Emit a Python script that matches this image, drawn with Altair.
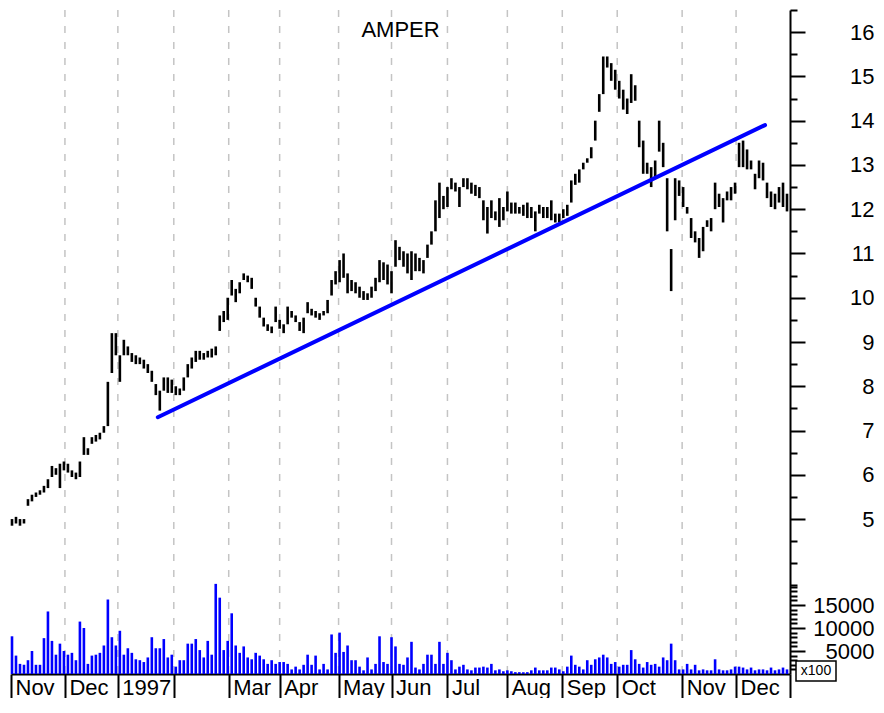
import json
import altair as alt
import pandas as pd

F = "Liberation Sans"

# month label boxes: label and first trading-day index of each month (last = end of data)
months = ["Nov", "Dec", "1997", "", "Mar", "Apr", "May", "Jun", "Jul", "Aug", "Sep", "Oct", "Nov", "Dec", ""]
month_start = [-0.25, 13.25, 26.5, 40.5, 54.25, 67, 81.75, 95, 109, 124, 137.75, 151.5, 167.75, 181.25, 194.75]

high = [5.0, 5.05, 5.0, 5.0, 5.45, 5.55, 5.6, 5.65, 5.75, 5.9,
        6.2, 6.15, 6.25, 6.3, 6.25, 6.1, 6.05, 6.3, 6.85, 6.6,
        6.85, 6.9, 6.95, 7.1, 8.1, 9.2, 9.2, 8.7, 9.05, 8.9,
        8.75, 8.7, 8.65, 8.6, 8.5, 8.35, 8.05, 7.9, 8.2, 8.2,
        8.15, 8.0, 7.95, 8.2, 8.5, 8.65, 8.8, 8.8, 8.75, 8.8,
        8.85, 8.9, 9.6, 9.7, 10.0, 10.4, 10.2, 10.35, 10.55, 10.5,
        10.45, 10.0, 9.8, 9.55, 9.4, 9.35, 9.8, 9.5, 9.4, 9.8,
        9.7, 9.6, 9.45, 9.55, 9.9, 9.75, 9.7, 9.65, 9.7, 9.95,
        10.4, 10.6, 10.85, 11.0, 10.55, 10.4, 10.35, 10.25, 10.15, 10.1,
        10.25, 10.45, 10.85, 10.8, 10.75, 10.6, 11.3, 11.15, 11.05, 11.0,
        11.05, 11.0, 10.9, 10.85, 11.2, 11.5, 12.2, 12.6, 12.3, 12.5,
        12.7, 12.6, 12.5, 12.7, 12.7, 12.6, 12.55, 12.5, 12.2, 12.05,
        12.2, 11.95, 12.25, 12.05, 12.4, 12.15, 12.15, 12.05, 12.1, 12.15,
        12.05, 11.95, 12.1, 12.05, 12.05, 12.2, 11.9, 11.9, 12.0, 12.1,
        12.65, 12.8, 12.9, 13.05, 13.15, 13.4, 14.0, 14.6, 15.45, 15.45,
        15.3, 15.15, 14.9, 14.7, 14.5, 15.05, 14.8, 14.0, 13.55, 13.05,
        12.95, 13.1, 14.0, 13.5, 12.7, 11.1, 12.7, 12.65, 12.5, 12.05,
        11.8, 11.5, 11.35, 11.6, 11.75, 11.8, 12.6, 12.35, 12.25, 12.4,
        12.5, 12.6, 13.5, 13.55, 13.35, 13.1, 12.8, 13.1, 13.05, 12.6,
        12.4, 12.35, 12.5, 12.6, 12.35]

low = [4.85, 4.9, 4.85, 4.9, 5.3, 5.4, 5.5, 5.55, 5.6, 5.7,
       5.95, 6.0, 5.7, 6.1, 6.05, 5.95, 5.9, 5.95, 6.45, 6.45,
       6.7, 6.75, 6.8, 6.95, 7.1, 8.3, 8.7, 8.1, 8.7, 8.7,
       8.55, 8.5, 8.5, 8.4, 8.3, 8.1, 7.8, 7.45, 7.9, 7.85,
       7.85, 7.8, 7.8, 7.9, 8.2, 8.4, 8.55, 8.6, 8.6, 8.65,
       8.65, 8.7, 9.25, 9.45, 9.5, 10.05, 9.9, 10.1, 10.4, 10.35,
       10.2, 9.8, 9.55, 9.35, 9.25, 9.2, 9.45, 9.3, 9.2, 9.4,
       9.55, 9.45, 9.25, 9.2, 9.65, 9.6, 9.55, 9.5, 9.6, 9.65,
       10.05, 10.3, 10.35, 10.45, 10.1, 10.15, 10.1, 10.0, 9.95, 9.95,
       10.0, 10.15, 10.35, 10.4, 10.3, 10.1, 10.7, 10.85, 10.7, 10.55,
       10.4, 10.6, 10.6, 10.55, 10.9, 11.2, 11.5, 11.8, 12.0, 12.05,
       12.45, 12.4, 12.05, 12.5, 12.45, 12.35, 12.3, 12.25, 11.75, 11.45,
       11.8, 11.75, 11.6, 11.75, 11.95, 11.9, 11.9, 11.9, 11.85, 11.8,
       11.8, 11.5, 11.9, 11.8, 11.8, 11.75, 11.7, 11.7, 11.8, 11.85,
       12.15, 12.55, 12.6, 12.9, 13.05, 13.15, 13.55, 14.2, 14.6, 15.2,
       14.9, 14.7, 14.5, 14.25, 14.15, 14.4, 14.45, 13.4, 12.8, 12.8,
       12.5, 12.7, 13.3, 12.95, 11.5, 10.15, 11.75, 12.3, 12.05, 11.9,
       11.35, 11.25, 10.9, 11.05, 11.6, 11.5, 12.0, 12.05, 11.7, 12.2,
       12.2, 12.35, 12.95, 12.95, 12.9, 12.9, 12.45, 12.7, 12.65, 12.25,
       12.05, 12.0, 12.15, 12.05, 11.95]

volume = [8200, 4000, 2200, 2000, 3000, 5000, 2000, 2000, 7800, 13600,
          7200, 4200, 6600, 5000, 4200, 4600, 3000, 11400, 10000, 2200,
          4000, 4200, 4600, 6200, 16200, 8000, 6200, 9400, 4200, 5600,
          4600, 3200, 3000, 2600, 3600, 8000, 5600, 5600, 7600, 3600,
          4200, 1600, 3000, 3000, 6600, 6600, 7600, 5200, 3600, 7200,
          4200, 19600, 16600, 5200, 7200, 13200, 6200, 4600, 6000, 3600,
          3200, 4600, 4000, 3200, 2200, 3000, 2200, 2600, 2600, 2200,
          1000, 1600, 1000, 2000, 4200, 2000, 4000, 1000, 2200, 1000,
          8600, 4600, 9000, 4800, 6200, 3000, 3000, 1600, 800, 3600,
          1000, 2200, 8200, 2600, 2200, 8000, 6000, 2200, 2000, 3600,
          7000, 1400, 1000, 2200, 4200, 4200, 2200, 7000, 2200, 4600,
          3000, 1000, 1600, 2000, 1000, 800, 1400, 1400, 1600, 1400,
          2200, 800, 1000, 600, 800, 600, 400, 400, 400, 400,
          800, 1400, 800, 800, 800, 1400, 1400, 1000, 600, 1600,
          4000, 2000, 1600, 1000, 3000, 2000, 3200, 3600, 4200, 3600,
          2200, 2600, 1600, 2000, 2000, 5200, 3200, 2200, 1400, 2600,
          2000, 2200, 1600, 3600, 3000, 6600, 3000, 1000, 1000, 2200,
          1000, 2000, 800, 1000, 800, 800, 3200, 1000, 800, 800,
          1000, 1600, 1600, 1400, 1000, 1400, 800, 1000, 1000, 800,
          1400, 800, 1000, 1400, 1000]

trend_day = [36.5, 188.5]
trend_price = [7.3, 13.9]

price_ticks = [5, 6, 7, 8, 9, 10, 11, 12, 13, 14, 15, 16]
price_minor = [3.5, 4.0, 4.5, 5.5, 6.5, 7.5, 8.5, 9.5, 10.5, 11.5, 12.5, 13.5, 14.5, 15.5, 16.5]
vol_ticks = [5000, 10000, 15000]
vol_minor = [1000, 2000, 3000, 4000, 6000, 7000, 8000, 9000, 11000, 12000, 13000, 14000, 16000, 17000, 18000, 19000]

df = pd.DataFrame({"day": list(range(len(high))), "high": high, "low": low, "volume": volume})
trend_df = pd.DataFrame({"day": trend_day, "price": trend_price})
grid_df = pd.DataFrame({"day": month_start[1:-1]})
unit_df = pd.DataFrame({"unit": ["x100"]})

W, H = 779, 664
LABEL_EDGE = 84  # distance from the right axis line to the right edge of its labels
xs = alt.Scale(domain=[month_start[0], month_start[-1]], nice=False, zero=False, padding=0)
ps = alt.Scale(domain=[1.5, 16.5], nice=False, zero=False, padding=0)
vs = alt.Scale(domain=[0, 144400], nice=False, padding=0)

label_expr = f"{json.dumps(months)}[indexof({json.dumps(month_start)}, datum.value)]"
x_axis = alt.Axis(values=month_start, orient="bottom", tickSize=26, tickWidth=2, tickColor="black",
                  domainColor="black", domainWidth=2, labelExpr=label_expr, labelAlign="left",
                  labelBaseline="top", labelOffset=4, labelPadding=-23, labelFontSize=22, labelFont=F,
                  labelColor="black", labelOverlap=False, labelFlush=False, grid=False, title=None)


def X(field):
    return alt.X(f"{field}:Q", scale=xs, axis=x_axis)


def right_axis(values, size, labels=True, domain=False):
    return alt.Axis(orient="right", values=values, tickSize=size, tickWidth=2, tickColor="black",
                    domain=domain, domainColor="black", domainWidth=2, labels=labels,
                    labelAlign="right", labelBaseline="middle", labelPadding=LABEL_EDGE - size,
                    labelFontSize=22, labelFont=F, labelColor="black", labelOverlap=False,
                    labelFlush=False, grid=False, title=None, format="d")


grid = alt.Chart(grid_df).mark_rule(color="#c4c4c4", strokeWidth=1.5, strokeDash=[7, 9]).encode(
    x=X("day"))

vol = alt.Chart(df).mark_bar(color="#0000ff", width=2.6).encode(
    x=X("day"),
    y=alt.Y("volume:Q", scale=vs, axis=right_axis(vol_ticks, 15)))

vol_minor_layer = alt.Chart(df).mark_bar(opacity=0, width=1).encode(
    x=X("day"),
    y=alt.Y("volume:Q", scale=vs, axis=right_axis(vol_minor, 7, labels=False)))

bars = alt.Chart(df).mark_rule(color="black", strokeWidth=2.6).encode(
    x=X("day"),
    y=alt.Y("low:Q", scale=ps, axis=right_axis(price_ticks, 15, domain=True)),
    y2="high:Q")

trend = alt.Chart(trend_df).mark_line(color="#0000ff", strokeWidth=4, strokeCap="round").encode(
    x=X("day"),
    y=alt.Y("price:Q", scale=ps, axis=right_axis(price_minor, 7, labels=False)))

unit_box = alt.Chart(unit_df).mark_rect(fill="white", stroke="black", strokeWidth=1.5).encode(
    x=alt.value(W + 6), x2=alt.value(W + 46), y=alt.value(H - 13), y2=alt.value(H + 7))
unit_text = alt.Chart(unit_df).mark_text(fontSize=14, font=F, color="black").encode(
    x=alt.value(W + 26), y=alt.value(H - 3), text="unit:N")

chart = alt.layer(grid, vol, vol_minor_layer, bars, trend, unit_box, unit_text).resolve_scale(
    y="independent").resolve_axis(y="independent").properties(
    width=W, height=H, autosize="none",
    padding={"left": 3, "top": 2, "right": 86, "bottom": 24},
    title=alt.TitleParams("AMPER", fontSize=22, font=F, fontWeight="normal", color="black",
                          anchor="middle", frame="group", baseline="top", dy=37),
    background="white",
).configure_view(stroke=None)

chart.save("out.html", embed_options={"renderer": "svg", "actions": False})
